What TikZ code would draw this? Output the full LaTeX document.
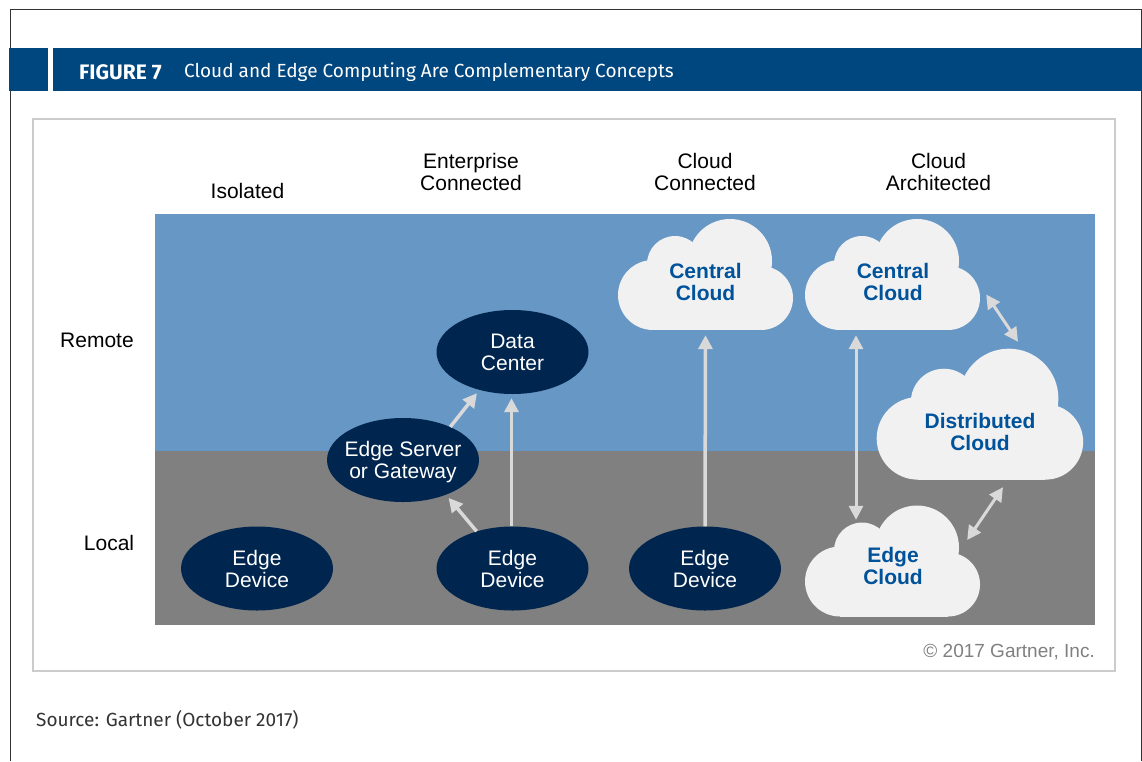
\documentclass[tikz,border=0pt]{standalone}
\usepackage{fontspec}
\setmainfont{Liberation Sans}
\newfontfamily\headfont{Fira Sans}
\usetikzlibrary{arrows.meta,shapes.geometric}

\definecolor{headblue}{HTML}{00467F}
\definecolor{remoteblue}{HTML}{6797C4}
\definecolor{localgray}{HTML}{808080}
\definecolor{ovalnavy}{HTML}{00264F}
\definecolor{cloudwhite}{HTML}{F1F1F1}
\definecolor{cloudtext}{HTML}{00529B}
\definecolor{arrowgray}{HTML}{D9D9D9}

\tikzset{
    diagtext/.style={font=\fontsize{21}{22}\selectfont, align=center, inner sep=0pt},
    oval/.style={ellipse, fill=ovalnavy, text=white, diagtext, inner sep=-8pt, text depth=0pt, minimum width=152pt, minimum height=84pt},
    cloudlabel/.style={font=\bfseries\fontsize{21}{22}\selectfont, align=center, inner sep=0pt, text=cloudtext},
    cloudbox/.style={inner sep=0pt, minimum width=175pt, minimum height=111pt},
    distbox/.style={inner sep=0pt, minimum width=206pt, minimum height=131pt},
    link/.style={draw=arrowgray, line width=3.5pt, -{Triangle[length=14pt,width=14pt]}},
    twolink/.style={draw=arrowgray, line width=3pt, {Triangle[length=14pt,width=14pt]}-{Triangle[length=14pt,width=14pt]}},
    cloudblob/.pic={
        \fill[cloudwhite] (-53,13) circle (35);
        \fill[cloudwhite] (-31,-18) circle (28);
        \fill[cloudwhite] (24,-21) circle (42);
        \fill[cloudwhite] (55,16) circle (32);
        \fill[cloudwhite] (-53,-10) rectangle (55,48);
    }
}

\begin{document}
\begin{tikzpicture}[x=1pt, y=-1pt]
    \useasboundingbox (0,0) rectangle (1142,761);

    \draw[color=black!80, line width=1.2pt] (10.5,761) -- (10.5,9.5) -- (1141.5,9.5) -- (1141.5,761);
    \fill[headblue] (9,48) rectangle (47.5,91);
    \fill[headblue] (53,48) rectangle (1142,91);
    \node[font=\headfont\bfseries\fontsize{21}{22}\selectfont, text=white, anchor=west, inner sep=0pt] (figtag) at (79,72) {FIGURE 7};
    \node[font=\headfont\fontsize{19}{22}\selectfont, text=white, anchor=west, inner sep=0pt] (figtitle) at (184,72.5) {Cloud and Edge Computing Are Complementary Concepts};

    \draw[color=black!20, line width=1.5pt, fill=white] (33,119) rectangle (1115,671);
    \fill[remoteblue] (155,214) rectangle (1095,451);
    \fill[localgray] (155,451) rectangle (1095,625);

    \node[diagtext] (isolated) at (247.5,191) {Isolated};
    \node[diagtext] (entconn) at (471,172) {Enterprise\\Connected};
    \node[diagtext] (cloudconn) at (705,172) {Cloud\\Connected};
    \node[diagtext] (cloudarch) at (938.5,172) {Cloud\\Architected};
    \node[diagtext] (remote) at (97,340) {Remote};
    \node[diagtext] (local) at (109,543) {Local};

    \node[oval] (datacenter) at (512.5,352) {Data\\Center};
    \node[oval] (gateway) at (403,460) {Edge Server\\or Gateway};
    \node[oval] (deviceA) at (257,568.5) {Edge\\Device};
    \node[oval] (deviceB) at (512.5,568.5) {Edge\\Device};
    \node[oval] (deviceC) at (705,568.5) {Edge\\Device};

    \pic at (706,282) {cloudblob};
    \pic at (893,282) {cloudblob};
    \pic[scale=1.18] at (980.5,423) {cloudblob};
    \pic at (893,568.5) {cloudblob};

    \node[cloudbox] (centralA) at (705.5,274.5) {};
    \node[cloudbox] (centralB) at (892.5,274.5) {};
    \node[distbox] (distributed) at (980,414.5) {};
    \node[cloudbox] (edgecloud) at (892.5,561.5) {};

    \node[cloudlabel] (centralAtext) at (705.5,282) {Central\\Cloud};
    \node[cloudlabel] (centralBtext) at (893,282) {Central\\Cloud};
    \node[cloudlabel] (disttext) at (980,432) {Distributed\\Cloud};
    \node[cloudlabel] (edgetext) at (893,566) {Edge\\Cloud};

    \draw[link, shorten >=4pt] (gateway.35) -- (datacenter.229);
    \draw[link, shorten >=4pt] ([xshift=-1pt]deviceB.north) -- ([xshift=-1pt]datacenter.south);
    \draw[link, shorten >=4pt] (deviceB.134) -- (gateway.-39);
    \draw[link] (deviceC.north) -- ([yshift=-5pt]centralA.south);
    \draw[twolink] ([shift={(-36.5,5)}]centralB.south) -- ([shift={(-36.5,14)}]edgecloud.north);
    \draw[twolink] ([shift={(6,20)}]centralB.east) -- ([shift={(38,-7)}]distributed.north);
    \draw[twolink] ([shift={(23,7)}]distributed.south) -- ([shift={(-13,-21.5)}]edgecloud.east);

    \node[font=\fontsize{19}{22}\selectfont, text=localgray, anchor=east, inner sep=0pt] (copyright) at (1095,652.5) {© 2017 Gartner, Inc.};
    \node[font=\headfont\fontsize{19}{22}\selectfont, text=black!80, anchor=west, inner sep=0pt] (source) at (36,720) {Source: Gartner (October 2017)};
\end{tikzpicture}
\end{document}
